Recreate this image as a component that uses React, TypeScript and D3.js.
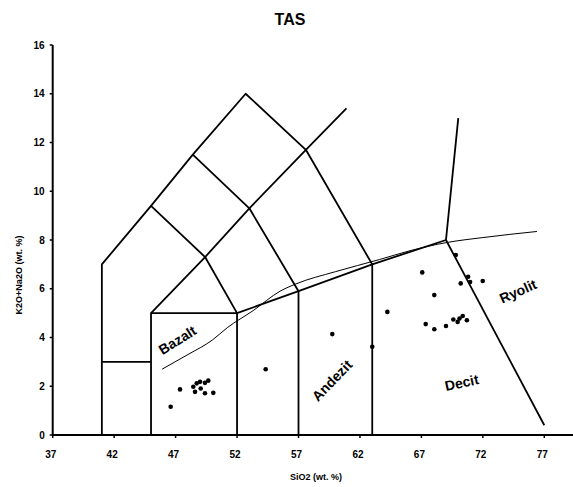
import React from 'react';
import * as d3 from 'd3';

// TAS (total alkali vs silica) diagram
const xTicks = [37, 42, 47, 52, 57, 62, 67, 72, 77];
const yTicks = [0, 2, 4, 6, 8, 10, 12, 14, 16];

// field boundaries [SiO2, Na2O+K2O]
const boundaries: [number, number][][] = [
  [[41, 0], [41, 7], [45, 9.4], [48.4, 11.5], [52.7, 14], [57.6, 11.7], [63, 7]],
  [[41, 3], [45, 3]],
  [[45, 0], [45, 5], [52, 5], [52, 0]],
  [[45, 5], [49.4, 7.3], [52, 5]],
  [[49.4, 7.3], [45, 9.4]],
  [[48.4, 11.5], [53, 9.3], [57, 5.9]],
  [[49.4, 7.3], [53, 9.3], [57.6, 11.7], [60.9, 13.4]],
  [[52, 5], [57, 5.9], [63, 7], [69, 8]],
  [[57, 0], [57, 5.9]],
  [[63, 0], [63, 7]],
  [[69, 8], [70, 13]],
  [[69, 8], [77, 0.4]],
];

// alkaline / subalkaline divide
const divideSiO2 = [45.9, 48, 50, 51.2, 53.3, 55.5, 56.8, 60, 63.6, 66, 69.1, 72, 76.4];
const divideAlk = [2.7, 3.3, 3.9, 4.4, 5.1, 5.9, 6.2, 6.7, 7.2, 7.55, 7.9, 8.1, 8.35];

// samples
const sampleSiO2 = [
  47.36, 46.6, 48.44, 48.72, 48.99, 49.39, 49.66, 48.58, 49.39, 50.07, 49.04,
  54.33, 59.75, 63.0,
  69.8, 67.07, 70.8, 70.2, 70.96, 71.99, 68.05, 64.23, 67.35, 68.05, 69.0, 69.6, 69.95, 70.36, 70.7, 70.1,
];
const sampleAlk = [
  1.87, 1.16, 1.98, 2.12, 2.18, 2.14, 2.23, 1.77, 1.71, 1.73, 1.91,
  2.7, 4.14, 3.62,
  7.38, 6.67, 6.49, 6.22, 6.28, 6.32, 5.74, 5.05, 4.55, 4.34, 4.47, 4.74, 4.64, 4.88, 4.71, 4.78,
];

const fieldNames = ['Bazalt', 'Andezit', 'Decit', 'Ryolit'];
const fieldSiO2 = [47.2, 59.8, 70.3, 74.9];
const fieldAlk = [3.85, 2.2, 2.1, 5.85];
const fieldAngle = [-32, -46, -12, -24];

const W = 573;
const H = 487;
const font = '"Liberation Sans", Arial, sans-serif';

export default function App() {
  const x = d3.scaleLinear().domain([37, 77]).range([52.7, 544.3]);
  const y = d3.scaleLinear().domain([0, 16]).range([435, 45]);
  const line = d3.line<[number, number]>().x(d => x(d[0])).y(d => y(d[1]));
  const divide = d3
    .line<number>()
    .x((_, i) => x(divideSiO2[i]))
    .y((_, i) => y(divideAlk[i]))
    .curve(d3.curveMonotoneX);

  return (
    <svg width={W} height={H} style={{ position: 'absolute', left: 0, top: 0, background: '#fff' }}>
      <text x={290} y={25} textAnchor="middle" fontFamily={font} fontWeight="bold" fontSize={16}>TAS</text>

      {boundaries.map((b, i) => (
        <path key={i} d={line(b) || ''} fill="none" stroke="#000" strokeWidth={1.8} strokeLinejoin="round" />
      ))}
      <path d={divide(divideSiO2) || ''} fill="none" stroke="#000" strokeWidth={1} />

      {sampleSiO2.map((v, i) => (
        <circle key={i} cx={x(v)} cy={y(sampleAlk[i])} r={2.3} fill="#000" />
      ))}

      {fieldNames.map((n, i) => (
        <text
          key={n}
          transform={`translate(${x(fieldSiO2[i])},${y(fieldAlk[i])}) rotate(${fieldAngle[i]})`}
          textAnchor="middle"
          dominantBaseline="middle"
          fontFamily={font}
          fontWeight="bold"
          fontSize={14}
        >
          {n}
        </text>
      ))}

      {/* axes */}
      <line x1={x(37)} x2={W} y1={y(0)} y2={y(0)} stroke="#000" strokeWidth={2} />
      <line x1={x(37)} x2={x(37)} y1={y(0)} y2={y(16)} stroke="#000" strokeWidth={2} />
      {xTicks.map(t => (
        <g key={t}>
          <line x1={x(t)} x2={x(t)} y1={y(0)} y2={y(0) + 3} stroke="#000" strokeWidth={1.5} />
          <text x={x(t) - 2} y={y(0) + 23} textAnchor="middle" fontFamily={font} fontWeight="bold" fontSize={10}>{t}</text>
        </g>
      ))}
      {yTicks.map(t => (
        <g key={t}>
          <line x1={x(37) - 3} x2={x(37)} y1={y(t)} y2={y(t)} stroke="#000" strokeWidth={1.5} />
          <text x={x(37) - 8} y={y(t) + 3.5} textAnchor="end" fontFamily={font} fontWeight="bold" fontSize={10}>{t}</text>
        </g>
      ))}
      <text x={316} y={480} textAnchor="middle" fontFamily={font} fontWeight="bold" fontSize={9}>SiO2 (wt. %)</text>
      <text transform="translate(22,275) rotate(-90)" textAnchor="middle" fontFamily={font} fontWeight="bold" fontSize={9}>K2O+Na2O (wt. %)</text>
    </svg>
  );
}
